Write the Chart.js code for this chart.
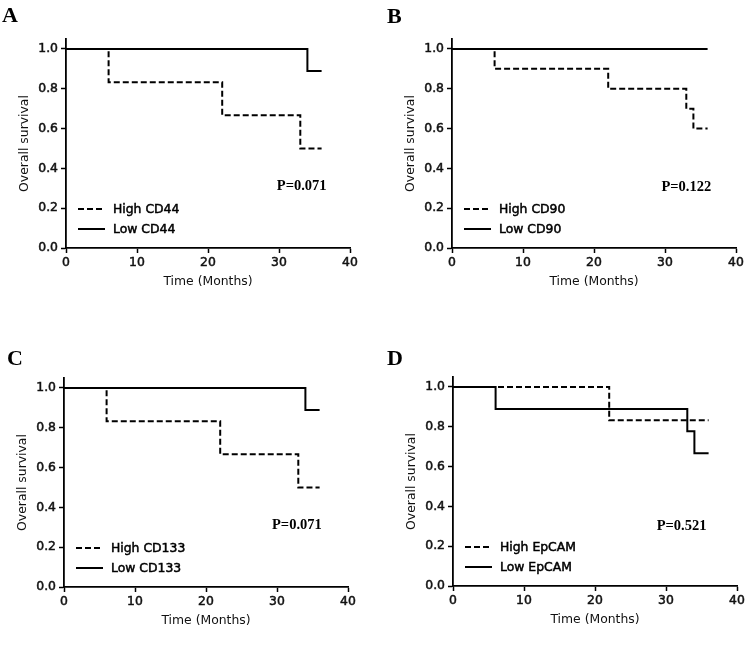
<!DOCTYPE html>
<html>
<head>
<meta charset="utf-8">
<script src="https://cdn.jsdelivr.net/npm/chart.js@4.4.1/dist/chart.umd.min.js"></script>
<style>
  html, body { margin: 0; padding: 0; background: #fff; }
  #page { position: relative; width: 750px; height: 647px; overflow: hidden; }
  .panel { position: absolute; width: 375px; height: 323px; }
</style>
</head>
<body>
<div id="page">
  <div class="panel" style="left:0px;top:0px"><canvas id="chartA" width="375" height="323"></canvas></div>
  <div class="panel" style="left:386px;top:0px"><canvas id="chartB" width="375" height="323"></canvas></div>
  <div class="panel" style="left:-2px;top:339px"><canvas id="chartC" width="375" height="323"></canvas></div>
  <div class="panel" style="left:387px;top:338px"><canvas id="chartD" width="375" height="323"></canvas></div>
</div>
<script>
// Kaplan-Meier steps: time of each event (months) and survival after it
const timeA_high = [0, 6, 22, 33, 36];
const survA_high = [1, 0.833, 0.667, 0.5, 0.5];
const timeA_low = [0, 34, 36];
const survA_low = [1, 0.889, 0.889];

const timeB_high = [0, 6, 22, 33, 34, 36];
const survB_high = [1, 0.9, 0.8, 0.7, 0.6, 0.6];
const timeB_low = [0, 36];
const survB_low = [1, 1];

const timeC_high = [0, 6, 22, 33, 36];
const survC_high = [1, 0.833, 0.667, 0.5, 0.5];
const timeC_low = [0, 34, 36];
const survC_low = [1, 0.889, 0.889];

const timeD_high = [0, 22, 36];
const survD_high = [1, 0.833, 0.833];
const timeD_low = [0, 6, 33, 34, 36];
const survD_low = [1, 0.889, 0.778, 0.667, 0.667];

const panelLetters = ['A', 'B', 'C', 'D'];
const highLabels = ['High CD44', 'High CD90', 'High CD133', 'High EpCAM'];
const lowLabels = ['Low CD44', 'Low CD90', 'Low CD133', 'Low EpCAM'];
const pValues = ['P=0.071', 'P=0.122', 'P=0.071', 'P=0.521'];
const xTicks = [0, 10, 20, 30, 40];
const yTicks = [0, 0.2, 0.4, 0.6, 0.8, 1.0];

const sans = "'DejaVu Sans', sans-serif";
const serif = "'Liberation Serif', 'Times New Roman', serif";

function toPoints(times, surv) {
    return times.map(function(t, i) { return { x: t, y: surv[i] }; });
}

// letter, p value and legend drawn on top of each panel
const panelDecor = {
    id: 'panelDecor',
    afterDraw: function(chart, args, opts) {
        const ctx = chart.ctx;
        const area = chart.chartArea;
        ctx.save();
        ctx.fillStyle = '#000';

        ctx.font = 'bold 22px ' + serif;
        ctx.textAlign = 'left';
        ctx.textBaseline = 'alphabetic';
        ctx.fillText(opts.letter, opts.letterX, opts.letterY);

        ctx.font = 'bold 14.5px ' + serif;
        ctx.textAlign = 'center';
        ctx.textBaseline = 'middle';
        ctx.fillText(opts.pText, chart.scales.x.getPixelForValue(opts.pX), chart.scales.y.getPixelForValue(opts.pY));

        const rows = [
            { label: opts.high, dash: [6, 3], y: area.bottom - 39 },
            { label: opts.low, dash: [], y: area.bottom - 19 }
        ];
        ctx.font = '12.4px ' + sans;
        ctx.textAlign = 'left';
        rows.forEach(function(r) {
            ctx.beginPath();
            ctx.setLineDash(r.dash);
            ctx.lineWidth = 2;
            ctx.strokeStyle = '#000';
            ctx.moveTo(area.left + 12, r.y);
            ctx.lineTo(area.left + 39, r.y);
            ctx.stroke();
            ctx.setLineDash([]);
            ctx.lineWidth = 0.5;
            ctx.strokeText(r.label, area.left + 47, r.y + 0.5);
            ctx.fillText(r.label, area.left + 47, r.y + 0.5);
        });
        ctx.restore();
    }
};

function makePanel(id, idx, high, low, decor) {
    const canvas = document.getElementById(id);
    if (!canvas || !canvas.getContext) return;
    const tickFont = { family: sans, size: 12.4 };
    const titleFont = { family: sans, size: 12.4 };
    return new Chart(canvas.getContext('2d'), {
        type: 'line',
        data: {
            datasets: [{
                label: highLabels[idx],
                data: high,
                stepped: true,
                borderColor: '#000',
                borderWidth: 2,
                borderDash: [6, 3],
                pointRadius: 0,
                fill: false
            }, {
                label: lowLabels[idx],
                data: low,
                stepped: true,
                borderColor: '#000',
                borderWidth: 2,
                pointRadius: 0,
                fill: false
            }]
        },
        options: {
            responsive: false,
            animation: false,
            layout: { padding: { left: 17, top: 39, right: 25, bottom: 34 } },
            scales: {
                x: {
                    type: 'linear',
                    min: 0,
                    max: 40,
                    afterFit: function(s) { s.height = 41; },
                    afterBuildTicks: function(s) { s.ticks = xTicks.map(function(v) { return { value: v }; }); },
                    ticks: { font: tickFont, color: '#111', padding: 2, maxRotation: 0, textStrokeColor: '#111', textStrokeWidth: 0.5 },
                    grid: { drawOnChartArea: false, drawTicks: true, tickLength: 5, tickWidth: 1.5, tickColor: '#000' },
                    border: { display: true, color: '#000', width: 1.8 },
                    title: { display: true, text: 'Time (Months)', font: titleFont, color: '#111', padding: 0 }
                },
                y: {
                    min: 0,
                    max: 1.05,
                    afterFit: function(s) { s.width = 49; },
                    afterBuildTicks: function(s) { s.ticks = yTicks.map(function(v) { return { value: v }; }); },
                    ticks: {
                        font: tickFont, color: '#111', padding: 3, textStrokeColor: '#111', textStrokeWidth: 0.5,
                        callback: function(v) { return v.toFixed(1); }
                    },
                    grid: { drawOnChartArea: false, drawTicks: true, tickLength: 5, tickWidth: 1.5, tickColor: '#000' },
                    border: { display: true, color: '#000', width: 1.8 },
                    title: { display: true, text: 'Overall survival', font: titleFont, color: '#111', padding: 0 }
                }
            },
            plugins: {
                legend: { display: false },
                tooltip: { enabled: false },
                panelDecor: Object.assign({
                    letter: panelLetters[idx],
                    pText: pValues[idx],
                    high: highLabels[idx],
                    low: lowLabels[idx]
                }, decor)
            }
        },
        plugins: [panelDecor]
    });
}

document.addEventListener('DOMContentLoaded', function() {
    makePanel('chartA', 0, toPoints(timeA_high, survA_high), toPoints(timeA_low, survA_low),
        { letterX: 2, letterY: 22, pX: 33.2, pY: 0.31 });
    makePanel('chartB', 1, toPoints(timeB_high, survB_high), toPoints(timeB_low, survB_low),
        { letterX: 1, letterY: 23, pX: 33.0, pY: 0.305 });
    makePanel('chartC', 2, toPoints(timeC_high, survC_high), toPoints(timeC_low, survC_low),
        { letterX: 9, letterY: 26, pX: 32.8, pY: 0.31 });
    makePanel('chartD', 3, toPoints(timeD_high, survD_high), toPoints(timeD_low, survD_low),
        { letterX: 0, letterY: 27, pX: 32.2, pY: 0.30 });
});
</script>
</body>
</html>
